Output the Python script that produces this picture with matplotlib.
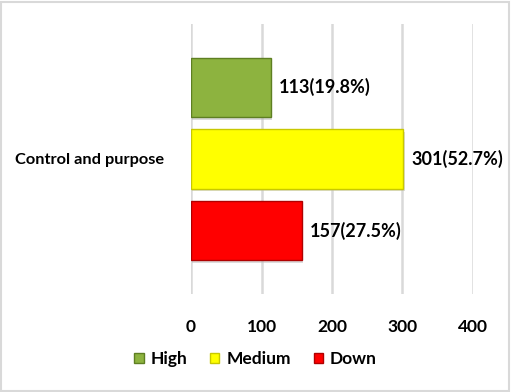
import matplotlib
matplotlib.use("Agg")
import matplotlib.pyplot as plt
from matplotlib.patches import Rectangle

categories = ["Control and purpose"]
series = ["High", "Medium", "Down"]
values = [113, 301, 157]
labels = ["113(19.8%)", "301(52.7%)", "157(27.5%)"]
xticks = [0, 100, 200, 300, 400]

colors = ["#8DB33F", "#FFFF00", "#FF0000"]
edges = ["#5E7F22", "#C8C800", "#B00000"]

plt.rcParams['font.family'] = ['Lato', 'DejaVu Sans']
plt.rcParams['font.weight'] = 'bold'

fig = plt.figure(figsize=(5.11, 3.92), dpi=100)
ax = fig.add_axes([0.3738, 0.25, 0.5518, 0.6888])

positions = [1, 0, -1]
height = 0.825
bars = []
for pos, v, c, e, s in zip(positions, values, colors, edges, series):
    ax.barh(pos - 0.04, v, height=height, left=2, color="#bbbbbb", alpha=0.5, zorder=2, linewidth=0)
    b = ax.barh(pos, v, height=height, color=c, edgecolor=e, linewidth=1.0, zorder=3, label=s)
    bars.append(b)

for pos, v, lab in zip(positions, values, labels):
    ax.text(v + 12, pos, lab, va='center', ha='left', fontsize=13, fontweight='bold', color='#000000')

ax.set_xlim(0, 400)
ax.set_ylim(-1.885, 1.885)
ax.set_xticks(xticks)
ax.set_xticklabels([str(t) for t in xticks], fontsize=12.5, fontweight='bold')
ax.set_yticks([0])
ax.set_yticklabels(categories, fontsize=11.8, fontweight='bold')
ax.tick_params(axis='x', length=0, pad=18)
ax.tick_params(axis='y', length=0, pad=19)
ax.grid(axis='x', color='#d9d9d9', linewidth=1.8, zorder=0)
ax.set_axisbelow(True)
for sp in ax.spines.values():
    sp.set_visible(False)

leg = fig.legend(handles=[b[0] for b in bars], labels=series, loc='center',
                 bbox_to_anchor=(0.5, 1 - 359 / 392), ncol=3, frameon=False,
                 handlelength=0.55, handleheight=0.55, handletextpad=0.4,
                 columnspacing=1.3, prop={'weight': 'bold', 'size': 12.5})

fig.patches.append(Rectangle((0.002, 0.003), 0.994, 0.993, transform=fig.transFigure,
                             fill=False, edgecolor='#d9d9d9', linewidth=1.5))

fig.savefig("out.png", dpi=100)
